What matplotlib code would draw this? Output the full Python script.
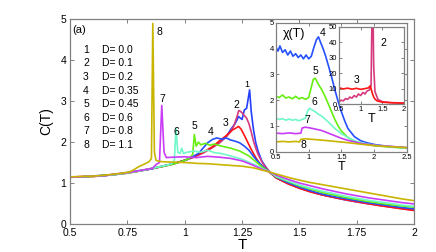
#!/usr/bin/env python3
"""
Specific heat C(T) for several D values, with chi(T) insets.
"""
import matplotlib
matplotlib.use('Agg')
import matplotlib.pyplot as plt

plt.rcParams['font.family'] = ['Liberation Sans', 'DejaVu Sans']

# ---- main panel: C(T) ----
D_labels = ['D= 0.0', 'D= 0.1', 'D= 0.2', 'D= 0.35', 'D= 0.45', 'D= 0.6', 'D= 0.8', 'D= 1.1']

T_tail = [1.4, 1.45, 1.5, 1.55, 1.6, 1.65, 1.7, 1.75, 1.8, 1.85, 1.9, 1.95, 2.0]

T1 = [0.5, 0.55, 0.6, 0.65, 0.7, 0.75, 0.8, 0.85, 0.9, 0.95, 1.0, 1.04, 1.08, 1.12, 1.15,
      1.18, 1.2, 1.22, 1.235, 1.25, 1.26, 1.27, 1.283, 1.29, 1.3, 1.31, 1.32, 1.335, 1.35,
      1.37] + T_tail
C1 = [1.14, 1.15, 1.17, 1.19, 1.21, 1.25, 1.29, 1.34, 1.40, 1.47, 1.55, 1.64, 1.74, 1.87, 1.98,
      2.12, 2.30, 2.45, 2.62, 2.55, 2.78, 2.82, 3.27, 2.75, 2.30, 1.98, 1.78, 1.55, 1.42,
      1.27, 1.13, 0.99, 0.88, 0.79, 0.71, 0.65, 0.59, 0.54, 0.50, 0.46, 0.42, 0.39, 0.36]

T2 = [0.5, 0.55, 0.6, 0.65, 0.7, 0.75, 0.8, 0.85, 0.9, 0.95, 1.0, 1.04, 1.08, 1.12, 1.15,
      1.18, 1.2, 1.215, 1.228, 1.236, 1.245, 1.255, 1.27, 1.28, 1.29, 1.3, 1.31, 1.32, 1.34,
      1.37] + T_tail
C2 = [1.15, 1.15, 1.16, 1.18, 1.21, 1.24, 1.29, 1.34, 1.40, 1.46, 1.55, 1.63, 1.73, 1.86, 1.97,
      2.12, 2.25, 2.40, 2.62, 2.77, 2.74, 2.68, 2.58, 2.45, 2.25, 2.02, 1.85, 1.70, 1.48,
      1.27, 1.13, 0.99, 0.88, 0.79, 0.71, 0.65, 0.59, 0.54, 0.49, 0.45, 0.41, 0.37, 0.34]

T3 = [0.5, 0.55, 0.6, 0.65, 0.7, 0.75, 0.8, 0.85, 0.9, 0.95, 1.0, 1.04, 1.08, 1.12, 1.15,
      1.18, 1.2, 1.21, 1.22, 1.235, 1.245, 1.255, 1.27, 1.29, 1.31, 1.33, 1.35,
      1.37] + T_tail
C3 = [1.14, 1.16, 1.16, 1.18, 1.22, 1.25, 1.29, 1.35, 1.40, 1.47, 1.56, 1.64, 1.75, 1.88, 2.02,
      2.15, 2.25, 2.30, 2.33, 2.38, 2.32, 2.22, 2.05, 1.82, 1.62, 1.45, 1.35,
      1.26, 1.12, 0.98, 0.87, 0.78, 0.71, 0.65, 0.60, 0.55, 0.50, 0.45, 0.41, 0.37, 0.33]

T4 = [0.5, 0.55, 0.6, 0.65, 0.7, 0.75, 0.8, 0.85, 0.9, 0.95, 1.0, 1.03, 1.06, 1.08, 1.1,
      1.12, 1.14, 1.16, 1.18, 1.2, 1.22, 1.24, 1.26, 1.28, 1.3, 1.32, 1.34, 1.37] + T_tail
C4 = [1.15, 1.15, 1.17, 1.18, 1.21, 1.25, 1.30, 1.34, 1.41, 1.47, 1.55, 1.63, 1.72, 1.85, 1.98,
      2.06, 2.10, 2.07, 2.10, 2.05, 2.02, 1.98, 1.90, 1.80, 1.65, 1.52, 1.40, 1.27,
      1.14, 1.01, 0.90, 0.81, 0.73, 0.67, 0.62, 0.57, 0.52, 0.48, 0.44, 0.40, 0.37]

T5 = [0.5, 0.55, 0.6, 0.65, 0.7, 0.75, 0.8, 0.85, 0.9, 0.95, 1.0, 1.02, 1.035, 1.042, 1.05,
      1.06, 1.07, 1.09, 1.11, 1.13, 1.16, 1.2, 1.24, 1.28, 1.31, 1.34, 1.37] + T_tail
C5 = [1.14, 1.15, 1.16, 1.19, 1.21, 1.24, 1.29, 1.35, 1.40, 1.46, 1.55, 1.60, 1.70, 2.18, 1.90,
      2.00, 1.93, 1.97, 1.92, 1.95, 1.90, 1.85, 1.78, 1.66, 1.52, 1.38, 1.27,
      1.15, 1.04, 0.93, 0.85, 0.77, 0.71, 0.65, 0.60, 0.55, 0.51, 0.47, 0.44, 0.41]

T6 = [0.5, 0.55, 0.6, 0.65, 0.7, 0.75, 0.8, 0.85, 0.9, 0.94, 0.955, 0.962, 0.97, 0.98,
      0.987, 0.995, 1.01, 1.04, 1.07, 1.1, 1.13, 1.16, 1.2, 1.25, 1.3, 1.34, 1.37] + T_tail
C6 = [1.15, 1.15, 1.17, 1.18, 1.21, 1.25, 1.29, 1.35, 1.41, 1.46, 1.55, 2.34, 1.75, 1.72,
      1.85, 1.72, 1.75, 1.78, 1.75, 1.80, 1.74, 1.72, 1.66, 1.58, 1.46, 1.35, 1.27,
      1.16, 1.05, 0.95, 0.87, 0.80, 0.74, 0.68, 0.63, 0.58, 0.54, 0.50, 0.46, 0.43]

T7 = [0.5, 0.55, 0.6, 0.65, 0.7, 0.75, 0.8, 0.86, 0.875, 0.89, 0.9, 0.91, 0.92, 0.95, 1.0,
      1.05, 1.1, 1.15, 1.2, 1.25, 1.3, 1.34, 1.37] + T_tail
C7 = [1.14, 1.15, 1.17, 1.18, 1.22, 1.25, 1.30, 1.36, 1.45, 1.50, 2.89, 1.75, 1.62, 1.63, 1.64,
      1.62, 1.65, 1.63, 1.60, 1.54, 1.43, 1.33, 1.27,
      1.19, 1.09, 1.00, 0.93, 0.86, 0.80, 0.74, 0.69, 0.64, 0.60, 0.56, 0.52, 0.49]

T8 = [0.5, 0.55, 0.6, 0.65, 0.7, 0.76, 0.78, 0.8, 0.82, 0.845, 0.855, 0.861, 0.868, 0.875,
      0.9, 0.95, 1.0, 1.05, 1.1, 1.15, 1.2, 1.25, 1.3, 1.34, 1.37] + T_tail
C8 = [1.15, 1.16, 1.17, 1.19, 1.22, 1.27, 1.33, 1.40, 1.45, 1.52, 1.60, 4.89, 1.75, 1.55,
      1.52, 1.51, 1.50, 1.48, 1.47, 1.45, 1.43, 1.41, 1.37, 1.31, 1.27,
      1.22, 1.14, 1.07, 1.01, 0.96, 0.91, 0.86, 0.81, 0.76, 0.71, 0.66, 0.61, 0.57]

main_T = [T1, T2, T3, T4, T5, T6, T7, T8]
main_C = [C1, C2, C3, C4, C5, C6, C7, C8]
colors = ['#2440ff', '#d63a7e', '#ff1414', '#2450ff', '#66ee10', '#70f8c8', '#c83cf5', '#c9b400']

# curve number labels (T, C)
lab_T = [1.27, 1.227, 1.176, 1.115, 1.042, 0.965, 0.902, 0.892]
lab_C = [3.40, 2.91, 2.46, 2.24, 2.38, 2.24, 3.06, 4.69]

x_ticks = [0.5, 0.75, 1, 1.25, 1.5, 1.75, 2]
x_ticklabels = ['0.5', '0.75', '1', '1.25', '1.5', '1.75', '2']

# ---- inset: chi(T) for D = 0.35 .. 1.1 ----
chiT4 = [0.5, 0.53, 0.56, 0.6, 0.64, 0.68, 0.72, 0.76, 0.8, 0.84, 0.88, 0.92, 0.96, 1.0, 1.04,
         1.08, 1.12, 1.15, 1.18, 1.22, 1.26, 1.3, 1.35, 1.4, 1.45, 1.5, 1.55, 1.6, 1.7, 1.8,
         1.9, 2.0, 2.2, 2.5]
chi4 = [4.05, 3.90, 4.10, 3.85, 3.95, 3.75, 3.90, 3.70, 3.80, 3.65, 3.75, 3.60, 3.75, 3.60, 3.70,
        4.05, 4.35, 4.45, 4.25, 4.00, 3.70, 3.35, 2.90, 2.40, 1.95, 1.55, 1.20, 0.90, 0.58, 0.42,
        0.34, 0.28, 0.21, 0.15]
chiT5 = [0.5, 0.55, 0.6, 0.65, 0.7, 0.75, 0.8, 0.85, 0.9, 0.95, 1.0, 1.04, 1.07, 1.1, 1.14, 1.2,
         1.25, 1.3, 1.35, 1.4, 1.45, 1.5, 1.6, 1.7, 1.8, 2.0, 2.5]
chi5 = [2.15, 2.10, 2.20, 2.08, 2.12, 2.05, 2.15, 2.05, 2.10, 2.03, 2.10, 2.50, 2.80, 2.85, 2.65, 2.40,
        2.15, 1.85, 1.55, 1.25, 1.00, 0.80, 0.55, 0.40, 0.32, 0.23, 0.13]
chiT6 = [0.5, 0.55, 0.6, 0.65, 0.7, 0.75, 0.8, 0.85, 0.9, 0.95, 0.98, 1.01, 1.05, 1.1, 1.15, 1.2,
         1.3, 1.4, 1.5, 1.6, 1.7, 1.8, 2.0, 2.5]
chi6 = [1.30, 1.25, 1.28, 1.22, 1.27, 1.22, 1.25, 1.20, 1.25, 1.30, 1.55, 1.68, 1.62, 1.55, 1.45, 1.38,
        1.15, 0.90, 0.70, 0.55, 0.43, 0.35, 0.25, 0.14]
chiT7 = [0.5, 0.6, 0.7, 0.8, 0.88, 0.9, 0.95, 1.0, 1.1, 1.2, 1.3, 1.4, 1.5, 1.6, 1.8, 2.0, 2.5]
chi7 = [0.72, 0.70, 0.73, 0.70, 0.72, 0.92, 0.95, 0.93, 0.88, 0.82, 0.72, 0.62, 0.52, 0.44, 0.32,
        0.25, 0.16]
chiT8 = [0.5, 0.6, 0.7, 0.8, 0.86, 0.88, 0.95, 1.0, 1.2, 1.4, 1.6, 1.8, 2.0, 2.2, 2.5]
chi8 = [0.38, 0.40, 0.38, 0.40, 0.38, 0.48, 0.50, 0.49, 0.45, 0.40, 0.35, 0.29, 0.24, 0.20, 0.16]

chi_T = [chiT4, chiT5, chiT6, chiT7, chiT8]
chi_vals = [chi4, chi5, chi6, chi7, chi8]
chi_colors = colors[3:]
chi_lab_T = [1.22, 1.11, 1.08, 0.98, 0.925]
chi_lab_v = [4.59, 3.13, 1.94, 1.22, 0.26]
chi_names = ['4', '5', '6', '7', '8']

# ---- inner inset: chi(T) for D = 0.1, 0.2 ----
inT3 = [0.5, 0.6, 0.7, 0.8, 0.9, 1.0, 1.1, 1.18, 1.22, 1.25, 1.28, 1.32, 1.38, 1.5, 1.7, 2.0]
in3 = [10.5, 9.8, 10.3, 9.6, 10.2, 9.5, 10.0, 10.5, 11.8, 9.0, 6.0, 3.5, 2.0, 1.2, 0.8, 0.5]
inT2 = [0.5, 0.55, 0.6, 0.65, 0.7, 0.75, 0.8, 0.85, 0.9, 0.95, 1.0, 1.05, 1.1, 1.15, 1.2, 1.24,
        1.255, 1.265, 1.285, 1.3, 1.33, 1.4, 1.5, 1.7, 2.0]
in2 = [1.5, 2.5, 2.0, 3.5, 3.0, 4.5, 3.8, 5.5, 4.5, 6.5, 5.5, 7.5, 6.5, 8.5, 9.0, 12.0,
       45.0, 60.0, 60.0, 25.0, 8.0, 3.0, 1.5, 0.9, 0.6]

frame = '#808080'


def style_axes(ax, size):
    for s in ax.spines.values():
        s.set_color(frame)
        s.set_linewidth(0.9)
    ax.tick_params(direction='in', which='both', top=True, right=True, color=frame,
                   length=2.5, width=0.7, labelsize=size, pad=1.5)


fig = plt.figure(figsize=(4.36, 2.52), dpi=100)

ax = fig.add_axes([0.1606, 0.111, 0.789, 0.8137])
for T, C, c in zip(main_T, main_C, colors):
    ax.plot(T, C, color=c, lw=1.2)
for i, (t, cv) in enumerate(zip(lab_T, lab_C)):
    ax.text(t, cv, str(i + 1), fontsize=6.5 if i == 0 else 7.5, ha='center', va='center')
ax.set_xlim(0.5, 2)
ax.set_ylim(0, 5)
ax.set_xticks(x_ticks)
ax.set_xticklabels(x_ticklabels)
ax.set_yticks([0, 1, 2, 3, 4, 5])
style_axes(ax, 7.5)
ax.tick_params(pad=2.5, length=3)
ax.set_xlabel('T', fontsize=11, labelpad=0)
ax.set_ylabel('C(T)', fontsize=10, labelpad=5)

ax.text(0.006, 0.946, '(a)', transform=ax.transAxes, fontsize=8, va='center')
for i, lab in enumerate(D_labels):
    y = 0.849 - 0.066 * i
    ax.text(0.0465, y, str(i + 1), transform=ax.transAxes, fontsize=7.5, ha='center', va='center')
    ax.text(0.092, y, lab, transform=ax.transAxes, fontsize=7.5, va='center')

# inset chi(T)
ins = fig.add_axes([0.633, 0.398, 0.300, 0.5118])
for T, v, c in zip(chi_T, chi_vals, chi_colors):
    ins.plot(T, v, color=c, lw=1.2)
for t, v, n in zip(chi_lab_T, chi_lab_v, chi_names):
    ins.text(t, v, n, fontsize=7.5, ha='center', va='center')
ins.set_xlim(0.5, 2.5)
ins.set_ylim(0, 5)
ins.set_xticks([0.5, 1, 1.5, 2, 2.5])
ins.set_xticklabels(['0.5', '1', '1.5', '2', '2.5'])
ins.set_yticks([0, 1, 2, 3, 4, 5])
style_axes(ins, 5.5)
ins.set_xlabel('T', fontsize=9, labelpad=0)
ins.text(0.05, 0.915, 'χ(T)', transform=ins.transAxes, fontsize=9, va='center')

# inner inset
inn = fig.add_axes([0.7775, 0.5873, 0.1491, 0.3056])
inn.plot(inT2, in2, color=colors[1], lw=1.2)
inn.plot(inT3, in3, color=colors[2], lw=1.2)
inn.text(1.52, 39.4, '2', fontsize=7.5, ha='center', va='center')
inn.text(0.91, 15.6, '3', fontsize=7.5, ha='center', va='center')
inn.set_xlim(0.5, 2)
inn.set_ylim(0, 50)
inn.set_xticks([0.5, 1, 1.5, 2])
inn.set_xticklabels(['0.5', '1', '1.5', '2'])
inn.set_yticks([0, 10, 20, 30, 40, 50])
style_axes(inn, 5.5)
inn.set_xlabel('T', fontsize=9, labelpad=0)

fig.savefig('out.png', dpi=100)
